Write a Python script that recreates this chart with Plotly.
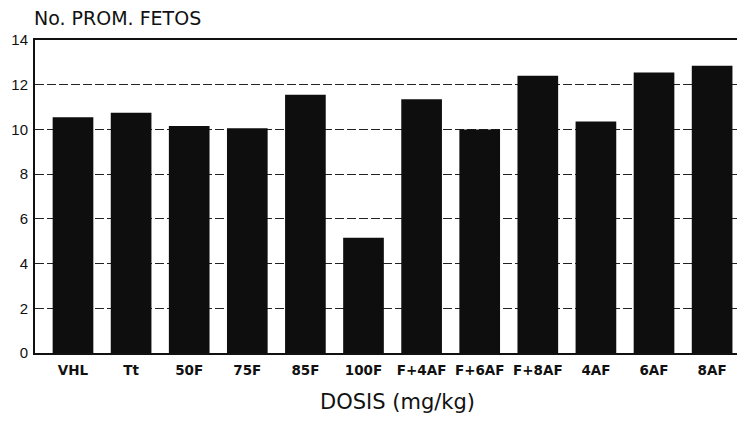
import plotly.graph_objects as go

categories = ["VHL", "Tt", "50F", "75F", "85F", "100F", "F+4AF", "F+6AF", "F+8AF", "4AF", "6AF", "8AF"]
values = [10.55, 10.75, 10.15, 10.05, 11.55, 5.15, 11.35, 10.0, 12.4, 10.35, 12.55, 12.85]
y_ticks = [0, 2, 4, 6, 8, 10, 12, 14]

fig = go.Figure()
fig.add_trace(go.Bar(x=categories, y=values, marker=dict(color="#0e0e0e", line=dict(width=0)),
                     hoverinfo="x+y"))

# the page body adds an 8px margin, so the figure is made 8px smaller and shifted
fig.update_layout(
    width=737, height=418,
    margin=dict(l=27, r=0, t=32, b=73, autoexpand=False),
    paper_bgcolor="white", plot_bgcolor="white",
    bargap=0.3,
    showlegend=False,
    xaxis=dict(
        type="category", automargin=False,
        range=[-0.654, 11.566],
        showline=True, linecolor="#111", linewidth=2, mirror=True,
        showgrid=False, ticks="",
        tickfont=dict(family="DejaVu Sans", size=13.5, color="#111", weight="bold"),
        ticklabelstandoff=4,
    ),
    yaxis=dict(
        range=[0, 14], automargin=False,
        tickvals=y_ticks,
        showline=True, linecolor="#111", linewidth=2, mirror=False,
        showgrid=True, gridcolor="#222", gridwidth=1.4, griddash="9px,3px",
        zeroline=False, ticks="",
        tickfont=dict(family="Liberation Sans", size=15, color="#111"),
        ticklabelstandoff=2,
    ),
    annotations=[
        dict(text="No. PROM. FETOS", xref="paper", yref="paper", x=-0.004, y=1.069,
             xanchor="left", yanchor="middle", showarrow=False,
             font=dict(family="DejaVu Sans", size=19, color="#111")),
        dict(text="DOSIS (mg/kg)", xref="paper", yref="paper", x=0.51, y=-0.155,
             xanchor="center", yanchor="middle", showarrow=False,
             font=dict(family="DejaVu Sans", size=21, color="#111")),
    ],
)

fig.write_html("out.html")
